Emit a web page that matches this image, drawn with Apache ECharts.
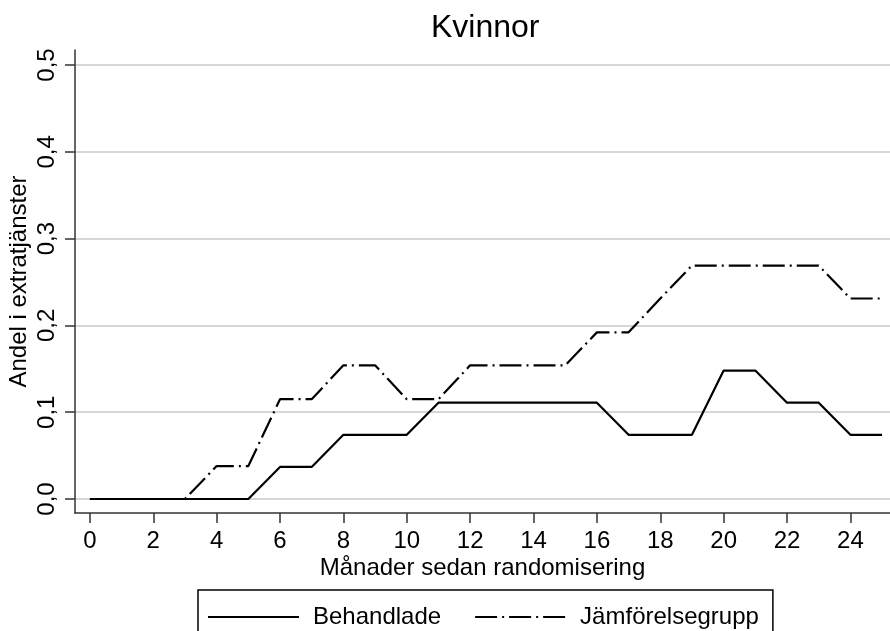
<!DOCTYPE html>
<html>
<head>
<meta charset="utf-8">
<script src="https://cdn.jsdelivr.net/npm/echarts@6/dist/echarts.min.js"></script>
<style>
html, body { margin: 0; padding: 0; background: #fff; }
#chart { width: 890px; height: 631px; }
</style>
</head>
<body>
<div id="chart"></div>
<script>
const months = [0,1,2,3,4,5,6,7,8,9,10,11,12,13,14,15,16,17,18,19,20,21,22,23,24,25];
const behandlade = [0,0,0,0,0,0,0.037,0.037,0.074,0.074,0.074,0.111,0.111,0.111,0.111,0.111,0.111,0.074,0.074,0.074,0.148,0.148,0.111,0.111,0.074,0.074];
const jamforelse = [0,0,0,0,0.038,0.038,0.115,0.115,0.154,0.154,0.115,0.115,0.154,0.154,0.154,0.154,0.192,0.192,0.231,0.269,0.269,0.269,0.269,0.269,0.231,0.231];
const xTicks = [0,2,4,6,8,10,12,14,16,18,20,22,24];
const yTicks = [0,0.1,0.2,0.3,0.4,0.5];
const seriesNames = ['Behandlade', 'Jämförelsegrupp'];

const FONT = '"Liberation Sans", Arial, sans-serif';
const chart = echarts.init(document.getElementById('chart'), null, { renderer: 'canvas' });

chart.setOption({
  animation: false,
  backgroundColor: '#ffffff',
  textStyle: { fontFamily: FONT, color: '#000' },
  title: {
    text: 'Kvinnor',
    left: 426,
    top: 7,
    textStyle: { fontFamily: FONT, fontSize: 32, fontWeight: 'normal', color: '#000' }
  },
  legend: {
    data: seriesNames,
    left: 198,
    top: 590,
    orient: 'horizontal',
    itemWidth: 91,
    itemHeight: 14,
    itemGap: 33,
    padding: [15, 14, 15, 9],
    borderColor: '#000',
    borderWidth: 1.5,
    borderRadius: 0,
    itemStyle: { opacity: 0, borderWidth: 0 },
    textStyle: { fontFamily: FONT, fontSize: 24, color: '#000', padding: [0, 0, 0, 9] }
  },
  grid: { left: 75, right: 0, top: 50, bottom: 118, containLabel: false, outerBoundsMode: 'none' },
  xAxis: {
    type: 'value',
    min: -0.47,
    max: 25.25,
    name: 'Månader sedan randomisering',
    nameLocation: 'middle',
    nameGap: 43,
    nameMoveOverlap: false,
    nameTextStyle: { fontFamily: FONT, fontSize: 24, color: '#000' },
    axisLine: { show: true, onZero: false, lineStyle: { color: '#333', width: 1.5 } },
    axisTick: { show: true, length: 10, customValues: xTicks, lineStyle: { color: '#333', width: 1.5 } },
    axisLabel: { customValues: xTicks, margin: 16, fontFamily: FONT, fontSize: 24, color: '#000' },
    splitLine: { show: false }
  },
  yAxis: {
    type: 'value',
    min: -0.0161,
    max: 0.5173,
    name: 'Andel i extratjänster',
    nameLocation: 'middle',
    nameGap: 44,
    nameMoveOverlap: false,
    nameTextStyle: { fontFamily: FONT, fontSize: 24, color: '#000' },
    axisLine: { show: true, onZero: false, lineStyle: { color: '#333', width: 1.5 } },
    axisTick: { show: true, length: 10, customValues: yTicks, lineStyle: { color: '#333', width: 1.5 } },
    axisLabel: {
      customValues: yTicks, rotate: 90, margin: 16, fontFamily: FONT, fontSize: 24, color: '#000',
      formatter: v => v.toFixed(1).replace('.', ',')
    },
    splitLine: { show: true, lineStyle: { color: '#d6d6d6', width: 2 } }
  },
  series: [
    {
      name: seriesNames[0],
      type: 'line',
      data: months.map((m, i) => [m, behandlade[i]]),
      symbol: 'none',
      lineStyle: { color: '#000', width: 2.2, type: 'solid' },
      itemStyle: { color: '#000' }
    },
    {
      name: seriesNames[1],
      type: 'line',
      data: months.map((m, i) => [m, jamforelse[i]]),
      symbol: 'none',
      lineStyle: { color: '#000', width: 2.2, type: [22, 5, 2, 5] },
      itemStyle: { color: '#000' }
    }
  ]
});
</script>
</body>
</html>
